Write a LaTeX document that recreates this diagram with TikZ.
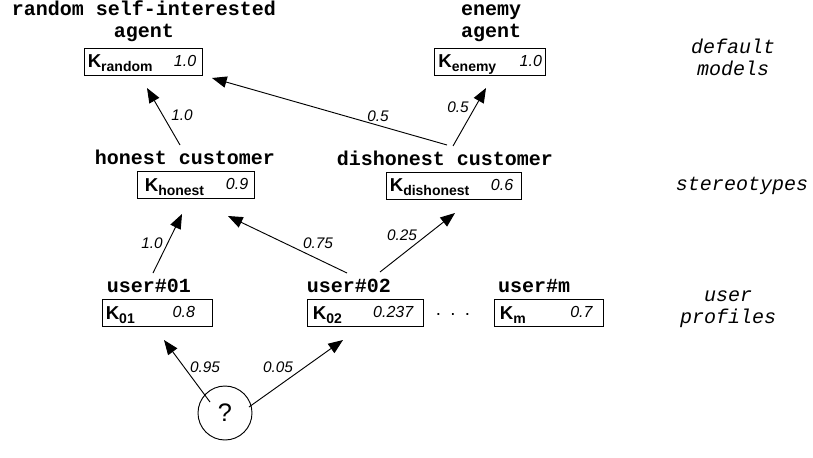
\documentclass[tikz,border=0pt]{standalone}
\usepackage{fontspec}
\setmainfont{Liberation Sans}
\newfontfamily\monofont{Liberation Mono}
\usetikzlibrary{arrows.meta}
\newcommand\kk[1]{K\raisebox{-3pt}{\fontsize{10.5}{11}\selectfont #1}}
\begin{document}
\begin{tikzpicture}[x=0.75pt,y=-0.75pt,
  title/.style={font=\monofont\bfseries\fontsize{15}{16.5}\selectfont, inner sep=0, anchor=base, align=center},
  side/.style={font=\monofont\itshape\fontsize{15}{16.5}\selectfont, inner sep=0, anchor=base, align=center},
  kbox/.style={draw, line width=0.75pt, minimum height=20.25pt, inner sep=0},
  klab/.style={font=\bfseries\fontsize{14}{16}\selectfont, anchor=base west, inner sep=0},
  kval/.style={font=\itshape\fontsize{12}{14}\selectfont, anchor=base east, inner sep=0},
  wlab/.style={font=\itshape\fontsize{11.5}{13}\selectfont, inner sep=0},
  arr/.style={-{Triangle[length=11pt,width=8.5pt]}, line width=0.7pt}]
\path[use as bounding box, fill=white] (0,0) rectangle (813,457);

% titles
\node[title] (trandom) at (144,37) {random self-interested\\agent};
\node[title] (tenemy) at (491,37) {enemy\\agent};
\node[title] (thonest) at (185,164) {honest customer};
\node[title] (tdishonest) at (445,165) {dishonest customer};
\node[title] (tu01) at (149,292) {user\#01};
\node[title] (tu02) at (349,292) {user\#02};
\node[title] (tum) at (534,292) {user\#m};

% side labels
\node[side] (sdefault) at (733,75) {default\\models};
\node[side] (sstereo) at (742,190) {stereotypes};
\node[side] (sprofiles) at (728,323) {user\\profiles};

% boxes
\node[kbox, minimum width=88.5pt] (brandom) at (143,61.5) {};
\node[klab] (lrandom) at ([xshift=3pt,yshift=6pt]brandom.south west) {\kk{random}};
\node[kval] (vrandom) at ([xshift=-4.5pt,yshift=7pt]brandom.south east) {1.0};

\node[kbox, minimum width=83.25pt] (benemy) at (489.5,61.5) {};
\node[klab] (lenemy) at ([xshift=3.5pt,yshift=6pt]benemy.south west) {\kk{enemy}};
\node[kval] (venemy) at ([xshift=-2.5pt,yshift=7pt]benemy.south east) {1.0};

\node[kbox, minimum width=87.75pt] (bhonest) at (195.5,185) {};
\node[klab] (lhonest) at ([xshift=6pt,yshift=6pt]bhonest.south west) {\kk{honest}};
\node[kval] (vhonest) at ([xshift=-4.5pt,yshift=7pt]bhonest.south east) {0.9};

\node[kbox, minimum width=101.25pt] (bdishonest) at (453.5,185.5) {};
\node[klab] (ldishonest) at ([xshift=3pt,yshift=6pt]bdishonest.south west) {\kk{dishonest}};
\node[kval] (vdishonest) at ([xshift=-6pt,yshift=7pt]bdishonest.south east) {0.6};

\node[kbox, minimum width=82.5pt] (bu01) at (157,313) {};
\node[klab] (lu01) at ([xshift=3pt,yshift=6pt]bu01.south west) {\kk{01}};
\node[kval] (vu01) at ([xshift=-13pt,yshift=7pt]bu01.south east) {0.8};

\node[kbox, minimum width=87pt] (bu02) at (365,313) {};
\node[klab] (lu02) at ([xshift=4.5pt,yshift=6pt]bu02.south west) {\kk{02}};
\node[kval] (vu02) at ([xshift=-7.5pt,yshift=7pt]bu02.south east) {0.237};

\node[kbox, minimum width=81.75pt] (bum) at (548.5,313) {};
\node[klab] (lum) at ([xshift=4.5pt,yshift=6pt]bum.south west) {\kk{m}};
\node[kval] (vum) at ([xshift=-8pt,yshift=7pt]bum.south east) {0.7};

\node[font=\fontsize{14}{16}\selectfont, inner sep=0, anchor=base] (dots) at (453,315) {.\hspace{7pt}.\hspace{7pt}.};

% question node
\node[draw, circle, line width=0.7pt, minimum size=40.5pt, inner sep=0, font=\fontsize{19}{21}\selectfont] (q) at (225,413) {?};

% arrow endpoints
\coordinate (honest-out) at (180,145);  \coordinate (random-in1) at (147,88);
\coordinate (dish-out1) at (447,145);   \coordinate (random-in2) at (212,78);
\coordinate (dish-out2) at (453,146);   \coordinate (enemy-in) at (486,88);
\coordinate (u01-out) at (153,273);     \coordinate (honest-in1) at (182,214);
\coordinate (u02-out1) at (347,273);    \coordinate (honest-in2) at (228,216);
\coordinate (u02-out2) at (380,272);    \coordinate (dish-in) at (455,213);
\coordinate (q-out1) at (210,402);      \coordinate (u01-in) at (164,340);
\coordinate (q-out2) at (249,407);      \coordinate (u02-in) at (343,340);

\draw[arr] (honest-out) -- (random-in1);
\draw[arr] (dish-out1) -- (random-in2);
\draw[arr] (dish-out2) -- (enemy-in);
\draw[arr] (u01-out) -- (honest-in1);
\draw[arr] (u02-out1) -- (honest-in2);
\draw[arr] (u02-out2) -- (dish-in);
\draw[arr] (q-out1) -- (u01-in);
\draw[arr] (q-out2) -- (u02-in);

% weights
\node[wlab] (w1) at (182,115) {1.0};
\node[wlab] (w2) at (378,116) {0.5};
\node[wlab] (w3) at (458,107) {0.5};
\node[wlab] (w4) at (152,243) {1.0};
\node[wlab] (w5) at (318,243) {0.75};
\node[wlab] (w6) at (402,235) {0.25};
\node[wlab] (w7) at (205,367) {0.95};
\node[wlab] (w8) at (278,367) {0.05};
\end{tikzpicture}
\end{document}
